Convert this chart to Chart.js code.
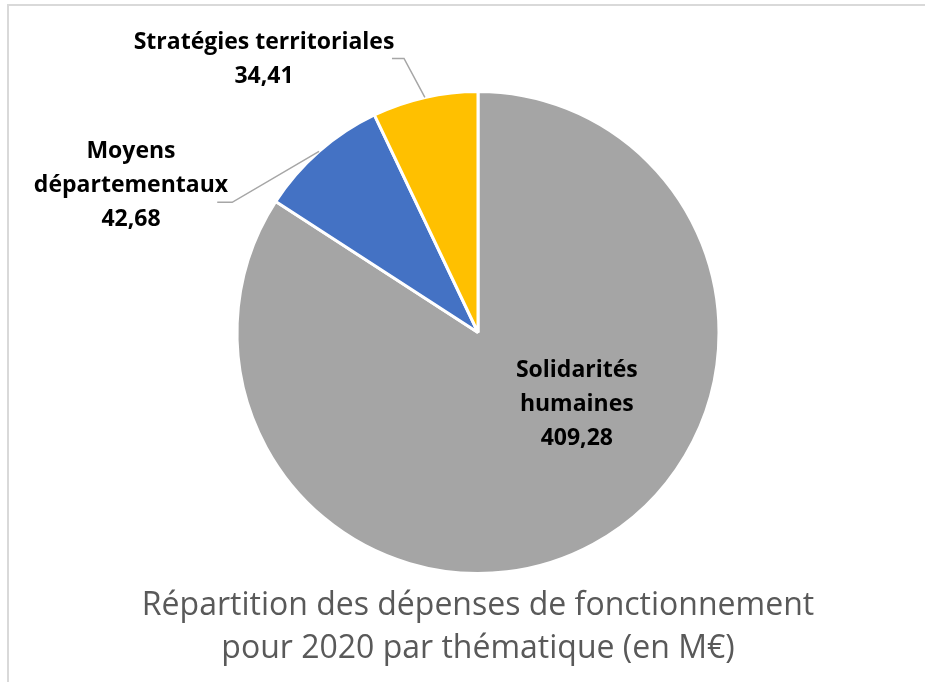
<!DOCTYPE html>
<html>
<head>
<meta charset="utf-8">
<script src="https://cdn.jsdelivr.net/npm/chart.js@4/dist/chart.umd.min.js"></script>
<style>
  html, body { margin: 0; padding: 0; background: #ffffff; }
  #wrap { width: 925px; height: 682px; position: relative; }
</style>
</head>
<body>
<div id="wrap"><canvas id="c" width="925" height="682"></canvas></div>
<script>
// ---- Data ----
const categories = ["Solidarités humaines", "Moyens départementaux", "Stratégies territoriales"];
const labelLines = [["Solidarités", "humaines"], ["Moyens", "départementaux"], ["Stratégies territoriales"]];
const values = [409.28, 42.68, 34.41];
const colors = ["#a5a5a5", "#4472c4", "#ffc000"];
const titleLines = ["Répartition des dépenses de fonctionnement", "pour 2020 par thématique (en M€)"];

// ---- Label placement styles (relative to pie radius) ----
const labelPlacement = [
  { inside: true, cx: 0.41, cy: 0.30 },
  { inside: false, cx: -1.44, cy: -0.61, elbow: [-1.02, -0.54], tail: -0.062 },
  { inside: false, cx: -0.888, cy: -1.133, elbow: [-0.307, -1.137], tail: -0.05 }
];

const fmt = v => v.toFixed(2).replace('.', ',');
const LABEL_FONT = 'bold 23px "Open Sans", Lato, sans-serif';
const LINE_H = 34;

const framePlugin = {
  id: 'frame',
  beforeDraw(chart) {
    const ctx = chart.ctx;
    ctx.save();
    ctx.fillStyle = '#ffffff';
    ctx.fillRect(0, 0, chart.width, chart.height);
    ctx.strokeStyle = '#d9d9d9';
    ctx.lineWidth = 2;
    ctx.strokeRect(8, 5, 2000, 2000);
    ctx.restore();
  }
};

const labelPlugin = {
  id: 'pieLabels',
  afterDatasetsDraw(chart) {
    const ctx = chart.ctx;
    const meta = chart.getDatasetMeta(0);
    meta.data.forEach((arc, i) => {
      const p = arc.getProps(['x', 'y', 'outerRadius', 'startAngle', 'endAngle'], true);
      const r = p.outerRadius;
      const st = labelPlacement[i];
      const lines = labelLines[i].concat([fmt(values[i])]);
      const tx = p.x + st.cx * r;
      const ty = p.y + st.cy * r;
      ctx.save();
      if (!st.inside) {
        const mid = (p.startAngle + p.endAngle) / 2;
        const ex = p.x + Math.cos(mid) * r;
        const ey = p.y + Math.sin(mid) * r;
        const bx = p.x + st.elbow[0] * r;
        const by = p.y + st.elbow[1] * r;
        ctx.strokeStyle = '#a6a6a6';
        ctx.lineWidth = 1.5;
        ctx.beginPath();
        ctx.moveTo(ex, ey);
        ctx.lineTo(bx, by);
        ctx.lineTo(bx + st.tail * r, by);
        ctx.stroke();
      }
      ctx.fillStyle = '#000000';
      ctx.font = LABEL_FONT;
      ctx.textAlign = 'center';
      ctx.textBaseline = 'middle';
      const y0 = ty - (lines.length - 1) * LINE_H / 2;
      lines.forEach((ln, k) => ctx.fillText(ln, tx, y0 + k * LINE_H));
      ctx.restore();
    });
  }
};

new Chart(document.getElementById('c'), {
  type: 'pie',
  data: {
    labels: categories,
    datasets: [{
      data: values,
      backgroundColor: colors,
      borderColor: '#ffffff',
      borderWidth: 3
    }]
  },
  options: {
    responsive: false,
    animation: false,
    layout: { padding: { left: 31, right: 0, top: 90, bottom: 0 } },
    plugins: {
      legend: { display: false },
      tooltip: { enabled: false },
      title: {
        display: true,
        position: 'bottom',
        text: titleLines,
        color: '#595959',
        font: { family: '"Open Sans", Lato, sans-serif', size: 32, weight: 'normal', lineHeight: 43 / 32 },
        padding: { top: 9, bottom: 12 }
      }
    }
  },
  plugins: [framePlugin, labelPlugin]
});
</script>
</body>
</html>
